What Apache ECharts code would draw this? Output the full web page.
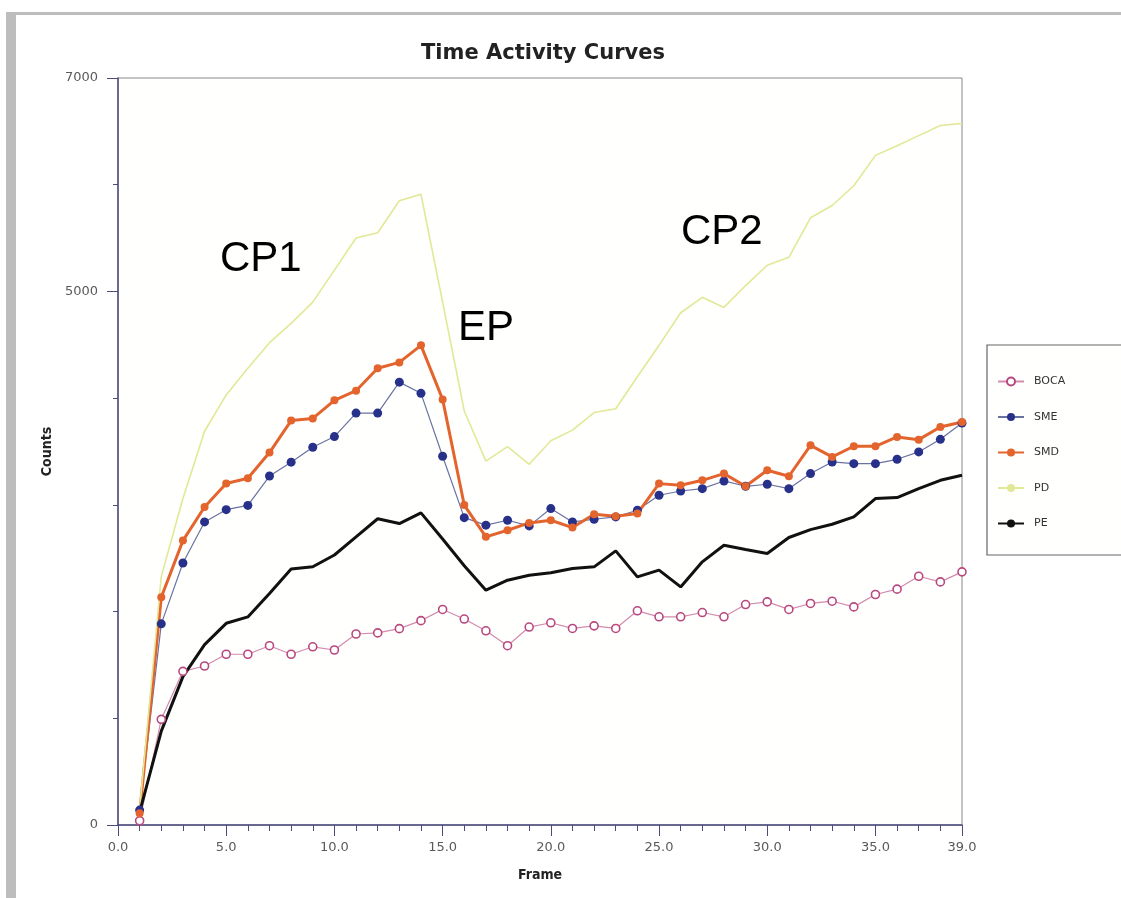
<!DOCTYPE html>
<html>
<head>
<meta charset="utf-8">
<script src="https://cdn.jsdelivr.net/npm/echarts@6/dist/echarts.min.js"></script>
<style>
html,body{margin:0;padding:0;background:#fff;}
#chart{width:1121px;height:898px;}
</style>
</head>
<body>
<div id="chart"></div>
<script>
const frames = [1,2,3,4,5,6,7,8,9,10,11,12,13,14,15,16,17,18,19,20,21,22,23,24,25,26,27,28,29,30,31,32,33,34,35,36,37,38,39];
const boca = [40,990,1440,1490,1600,1600,1680,1600,1670,1640,1790,1800,1840,1915,2020,1930,1820,1680,1855,1895,1842,1866,1842,2007,1951,1951,1991,1951,2066,2091,2020,2076,2097,2044,2160,2210,2331,2278,2372];
const sme = [140,1885,2455,2840,2955,2995,3270,3400,3540,3640,3860,3860,4150,4045,3455,2880,2810,2856,2803,2965,2840,2865,2887,2949,3090,3130,3152,3224,3174,3193,3152,3293,3402,3386,3386,3427,3496,3614,3767];
const smd = [110,2135,2665,2980,3200,3250,3490,3790,3810,3980,4070,4280,4335,4495,3988,2998,2700,2762,2831,2856,2787,2912,2893,2918,3199,3184,3230,3293,3174,3324,3268,3558,3449,3549,3549,3636,3611,3729,3776];
const pd = [150,2330,3060,3690,4030,4280,4520,4700,4900,5200,5500,5550,5850,5910,4900,3880,3410,3545,3380,3600,3700,3865,3900,4200,4495,4800,4945,4850,5055,5245,5320,5690,5805,5990,6275,6365,6460,6555,6575];
const pe = [120,880,1390,1690,1890,1950,2170,2400,2420,2530,2700,2870,2825,2925,2680,2430,2200,2294,2340,2363,2403,2419,2569,2325,2388,2231,2466,2622,2581,2544,2694,2768,2818,2887,3059,3068,3152,3230,3277];
const yLabelValues = [0,5000,7000];
const xLabelValues = [0,5,10,15,20,25,30,35,39];
const seriesNames = ['BOCA','SME','SMD','PD','PE'];
const annotations = [
  {text:'CP1', x:220, y:259},
  {text:'EP', x:458, y:328},
  {text:'CP2', x:681, y:232}
];

function pairs(arr){ return frames.map((f,i)=>[f,arr[i]]); }

const chart = echarts.init(document.getElementById('chart'), null, {renderer:'canvas'});
const axisColor = '#4b4b80';
const labelFont = {color:'#5a5a5a', fontSize:13, fontFamily:'DejaVu Sans'};
const nameFont = {color:'#222', fontSize:14, fontWeight:'bold', fontFamily:'Liberation Sans Narrow, DejaVu Sans Condensed, sans-serif'};

chart.setOption({
  backgroundColor:'#ffffff',
  animation:false,
  title:{
    text:'Time Activity Curves',
    left:538, top:38, textAlign:'center',
    textStyle:{fontSize:21, fontWeight:'bold', color:'#222', fontFamily:'DejaVu Sans'}
  },
  grid:{left:118, right:159, top:78, bottom:73, show:true, borderColor:'#888', borderWidth:1, backgroundColor:'#fffffd'},
  legend:{
    orient:'vertical', left:992, top:371,
    data:seriesNames,
    itemWidth:26, itemHeight:10, itemGap:24.5,
    textStyle:{fontSize:11, color:'#333', fontFamily:'DejaVu Sans', padding:[0,0,0,5]}
  },
  xAxis:[{
    type:'value', min:0, max:39, interval:1,
    name:'Frame', nameLocation:'middle', nameGap:43, nameTextStyle:nameFont,
    axisLine:{show:true, onZero:false, lineStyle:{color:axisColor, width:1.5}},
    axisTick:{show:true, length:6, lineStyle:{color:axisColor}},
    axisLabel:Object.assign({margin:16, formatter:v => xLabelValues.indexOf(v) >= 0 ? v.toFixed(1) : ''}, labelFont),
    splitLine:{show:false}
  },{
    type:'value', min:0, max:39, position:'bottom',
    axisLine:{show:false, onZero:false},
    axisTick:{show:true, length:11, customValues:xLabelValues, lineStyle:{color:axisColor}},
    axisLabel:{show:false},
    splitLine:{show:false}
  }],
  yAxis:[{
    type:'value', min:0, max:7000, interval:1000,
    name:'Counts', nameLocation:'middle', nameGap:60, nameRotate:90, nameTextStyle:nameFont,
    axisLine:{show:true, onZero:false, lineStyle:{color:axisColor, width:1.5}},
    axisTick:{show:true, length:5, lineStyle:{color:axisColor}},
    axisLabel:Object.assign({margin:20, formatter:v => yLabelValues.indexOf(v) >= 0 ? String(v) : ''}, labelFont),
    splitLine:{show:false}
  },{
    type:'value', min:0, max:7000, position:'left', offset:0,
    axisLine:{show:false, onZero:false},
    axisTick:{show:true, length:11, customValues:yLabelValues, lineStyle:{color:axisColor}},
    axisLabel:{show:false},
    splitLine:{show:false}
  }],
  graphic:[
    {type:'rect', shape:{x:6, y:12, width:10, height:886}, style:{fill:'#bdbdbd'}, silent:true},
    {type:'rect', shape:{x:6, y:12, width:1115, height:3}, style:{fill:'#bdbdbd'}, silent:true},
    {type:'rect', shape:{x:987, y:345, width:200, height:210}, style:{fill:'#fffffd', stroke:'#666', lineWidth:1.2}, z:-1, silent:true}
  ].concat(annotations.map(a => ({
    type:'text', left:a.x, top:a.y - 21, z:100,
    style:{text:a.text, fontSize:42, fontFamily:'Liberation Sans, Arial, sans-serif', fill:'#000'}
  }))),
  series:[
    {name:'BOCA', type:'line', data:pairs(boca), symbol:'circle', symbolSize:8, showSymbol:true,
     lineStyle:{color:'#d48aae', width:1.2}, itemStyle:{color:'#ffffff', borderColor:'#b8487e', borderWidth:1.6}},
    {name:'SME', type:'line', data:pairs(sme), symbol:'circle', symbolSize:9,
     lineStyle:{color:'#6a72a2', width:1.2}, itemStyle:{color:'#28318a', borderColor:'#28318a', borderWidth:0}},
    {name:'SMD', type:'line', data:pairs(smd), symbol:'circle', symbolSize:8,
     lineStyle:{color:'#e4642e', width:3}, itemStyle:{color:'#e4642e', borderWidth:0}},
    {name:'PD', type:'line', data:pairs(pd), symbol:'none',
     lineStyle:{color:'#e2e896', width:1.6}, itemStyle:{color:'#e2e896'}},
    {name:'PE', type:'line', data:pairs(pe), symbol:'none',
     lineStyle:{color:'#111111', width:3}, itemStyle:{color:'#111111'}}
  ]
});
</script>
</body>
</html>
